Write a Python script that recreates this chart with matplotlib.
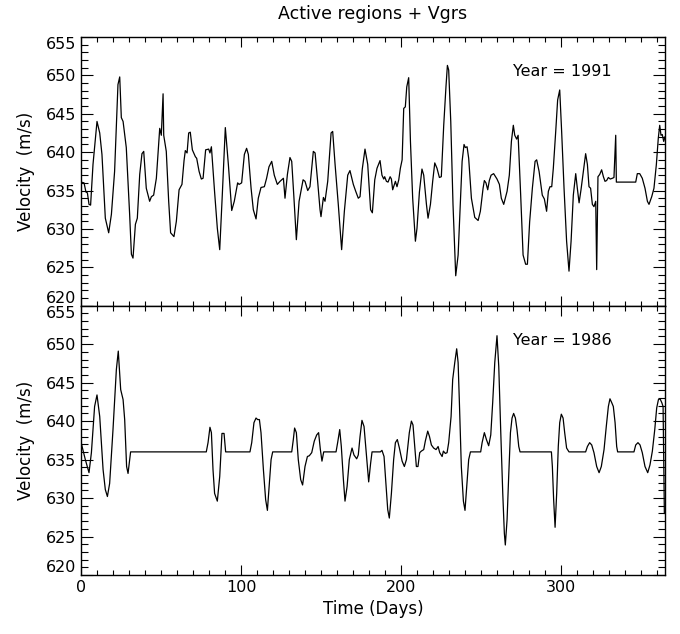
import matplotlib
matplotlib.use('Agg')
import matplotlib.pyplot as plt
from matplotlib.ticker import MultipleLocator

# 1991 series (day, velocity)
days1991 = [0, 1.9, 3.1, 4, 5, 6, 7.5, 10, 11.7, 13.1, 15.2, 17.3, 19, 21, 23.1, 24.2, 25.2, 26.3, 28.3,
            30.4, 31.5, 32.5, 34, 35.2, 36.7, 38.1, 39.2, 40.8, 42.9, 44, 45.4, 47.1, 49.2, 50.2, 51.3,
            51.7, 53.3, 54.8, 56, 58.1, 59.6, 61.3, 63.1, 64.4, 65.2, 66.3, 67.3, 68.3, 69.6, 71.5, 72.3,
            73.8, 75.2, 76.3, 77.9, 79.8, 80.6, 81.5, 83.5, 85.2, 86.7, 88.3, 90.2, 92.1, 94.2, 95.8,
            97.9, 98.8, 100.4, 102.1, 103.5, 104.6, 106.3, 107.7, 109.4, 110.8, 112.5, 114.6, 116,
            117.5, 119.2, 120.8, 122.7, 124.4, 126.5, 127.5, 129, 130.6, 131.7, 133.1, 134.6, 136.3,
            138.8, 140, 141.7, 143.1, 145.2, 146.3, 147.9, 149.4, 150, 151.5, 152.5, 154.2, 156.3,
            157.3, 158.8, 160.8, 162.9, 164.6, 166.7, 168.1, 170.2, 171.7, 173.3, 174.4, 175.8, 177.5,
            179.2, 181, 182.1, 183.6, 185, 186.9, 188.1, 189.2, 189.8, 190.9, 191.9, 193.2, 194, 194.8,
            196.5, 197.5, 198.6, 199.6, 200.7, 201.7, 202.7, 203.6, 204.8, 205.9, 207.3, 209, 210,
            211.5, 213.1, 214.2, 215.9, 216.9, 218.4, 219.8, 221.1, 222.5, 224, 225.2, 226.7, 228.1,
            229, 229.8, 231.1, 232.5, 234.2, 235.7, 237.3, 238.2, 239.4, 240.2, 241.3, 242.3, 244,
            246.1, 248.2, 249.6, 251.3, 252.1, 253.1, 254.2, 255.2, 256.3, 257.9, 260, 261.5, 262.7,
            264.2, 266.3, 267.7, 269, 270.2, 271.1, 272.3, 273.2, 274.8, 276.3, 277.9, 279, 280.4,
            282.1, 283.8, 284.8, 286.3, 288.3, 289.6, 291, 292.1, 293.1, 294.2, 295.2, 296.7, 297.9,
            299.2, 300.4, 301.9, 303.5, 305, 306.3, 307.7, 309.2, 310.2, 311.3, 312.5, 314, 315.4,
            316.5, 317.5, 318.5, 319.6, 320.6, 321.7, 322.3, 323.1, 324.2, 325.4, 326.5, 327.5, 328.5,
            329.6, 330.8, 332.1, 333.1, 334.2, 334.6, 346.7, 347.7, 349.2, 350.8, 352.5, 354, 355,
            356.7, 358.1, 359.6, 360.8, 361.7, 362.5, 363.3, 364.2, 365]
vel1991 = [636.1, 636.0, 634.8, 634.7, 633.2, 633.1, 638.4, 644.0, 642.5, 639.7, 631.4, 629.5, 631.9,
           637.5, 648.8, 649.8, 644.5, 644.0, 640.6, 631.9, 626.7, 626.2, 630.6, 631.4, 637.1, 639.8,
           640.1, 635.3, 633.6, 634.2, 634.4, 636.6, 643.1, 642.2, 647.6, 642.2, 640.1, 633.6, 629.5,
           629.0, 631.0, 635.1, 635.8, 638.9, 640.2, 639.9, 642.5, 642.6, 640.3, 639.4, 639.2, 637.5,
           636.5, 636.6, 640.3, 640.4, 639.9, 640.7, 634.8, 630.1, 627.3, 634.4, 643.2, 638.4, 632.4,
           633.6, 636.0, 635.8, 636.0, 639.7, 640.5, 639.7, 635.3, 632.5, 631.3, 634.0, 635.4, 635.5,
           636.6, 638.1, 638.8, 637.0, 635.8, 636.2, 636.6, 634.0, 637.1, 639.3, 638.8, 634.0, 628.6,
           633.6, 636.4, 636.2, 635.0, 635.5, 640.1, 639.9, 636.2, 632.5, 631.6, 634.1, 633.6, 636.2,
           642.5, 642.7, 638.4, 633.2, 627.3, 632.3, 637.0, 637.6, 635.8, 634.9, 634.0, 634.2, 637.8,
           640.4, 638.4, 632.5, 632.1, 636.4, 637.9, 638.9, 637.0, 636.5, 636.8, 636.2, 636.1, 636.8,
           636.5, 635.1, 636.2, 635.5, 636.4, 637.9, 639.0, 645.7, 645.9, 648.5, 649.7, 641.4, 634.0,
           628.4, 630.1, 634.8, 637.8, 637.0, 633.2, 631.4, 633.2, 636.2, 638.6, 637.9, 636.7, 636.8,
           643.5, 648.5, 651.3, 650.7, 644.0, 633.2, 623.9, 626.6, 634.4, 638.8, 641.0, 640.6, 640.7,
           639.2, 634.0, 631.5, 631.1, 632.3, 635.3, 636.3, 636.0, 635.1, 636.3, 637.0, 637.2, 636.5,
           635.8, 634.0, 633.2, 634.9, 637.0, 641.4, 643.5, 642.2, 641.7, 642.2, 634.4, 626.6, 625.4,
           625.4, 630.9, 635.3, 638.8, 639.0, 637.5, 634.4, 633.9, 632.3, 634.9, 635.5, 635.5, 637.9,
           642.7, 646.8, 648.1, 642.7, 635.3, 628.4, 624.5, 628.4, 634.4, 637.2, 635.3, 633.4, 635.1,
           637.5, 639.8, 638.4, 635.5, 635.3, 633.2, 632.9, 633.6, 624.7, 636.8, 637.1, 637.7, 636.8,
           636.2, 636.3, 636.7, 636.5, 636.6, 636.7, 642.2, 636.1, 636.1, 637.2, 637.2, 636.6, 635.3,
           633.6, 633.2, 634.2, 635.3, 638.4, 641.8, 643.5, 642.2, 642.3, 641.4, 642.0]

# 1986 series (day, velocity)
days1986 = [0.2, 2.7, 5, 6.5, 8.5, 10, 11.7, 13.8, 15.2, 16.5, 17.9, 20, 22.1, 23.3, 24.8, 26.3, 27.3,
            28.5, 29.4, 30.4, 31, 78.3, 79.4, 80.6, 81.5, 82.5, 83.5, 85.2, 86.7, 88.1, 89.4, 90.4,
            105.6, 106.7, 108.1, 109.4, 110.4, 111.5, 112.5, 114, 115.4, 116.5, 117.7, 118.8, 119.8,
            131.7, 132.7, 133.5, 134.6, 135.8, 137.3, 138.5, 140, 141.5, 142.7, 144.2, 145.8, 147.3,
            148.5, 149.6, 150.6, 151.7, 159.4, 160.4, 161.7, 162.7, 164, 165, 166.3, 167.7, 169.4,
            170.6, 172.3, 173.3, 174.4, 175.6, 176.9, 178.1, 179.8, 181, 181.9, 187.1, 188.1, 189.4,
            190.7, 191.7, 192.7, 194, 195.4, 196.5, 197.7, 199, 200.7, 202.1, 203.4, 205.2, 206.5,
            207.5, 208.6, 209.6, 210.6, 211.7, 212.7, 214.2, 215.2, 216.7, 217.8, 219, 220.4, 221.9,
            223.2, 224.2, 225.7, 226.5, 227.7, 228.8, 229.8, 231.3, 232.3, 233.6, 234.8, 235.7, 236.5,
            237.7, 239, 240, 241.1, 242.3, 243.4, 249.8, 250.7, 252.1, 253.4, 254.8, 256.1, 257.3,
            258.6, 260, 261.1, 262.3, 263.6, 264.6, 265.2, 266.3, 267.3, 268.4, 269.4, 270.4, 271.5,
            272.5, 273.6, 274.4, 294, 294.6, 295.4, 296.3, 297.3, 298.3, 299.2, 300.2, 301.3, 302.3,
            303.5, 305, 315.4, 316.5, 317.9, 319.2, 320.6, 322.3, 323.8, 325.2, 326.9, 328.3, 329.6,
            330.6, 331.7, 332.7, 333.8, 334.8, 335.4, 345.6, 346.7, 348.1, 349.4, 350.8, 352.5, 354.2,
            355.6, 357.1, 358.6, 359.8, 360.9, 361.9, 363, 363.8, 364.6]
vel1986 = [637.1, 635.0, 633.3, 635.9, 641.9, 643.4, 640.6, 633.7, 631.1, 630.2, 631.9, 638.9, 646.7,
           649.1, 644.1, 642.8, 640.2, 634.1, 633.2, 635.0, 636.0, 636.0, 637.2, 639.2, 638.5, 633.7,
           630.6, 629.6, 632.8, 638.4, 638.4, 636.0, 636.0, 637.2, 639.8, 640.4, 640.2, 640.2, 638.5,
           633.7, 629.8, 628.4, 631.9, 635.0, 636.0, 636.0, 637.6, 639.1, 638.5, 635.0, 632.4, 631.7,
           634.1, 635.4, 635.5, 635.9, 637.4, 638.2, 638.5, 636.3, 634.8, 636.0, 636.0, 637.2, 638.9,
           636.7, 632.4, 629.6, 631.5, 635.0, 636.5, 635.6, 635.1, 635.6, 638.0, 640.1, 639.3, 636.3,
           632.1, 634.5, 636.0, 636.0, 636.2, 635.4, 631.5, 628.5, 627.4, 630.6, 635.0, 637.2, 637.6,
           636.5, 634.8, 634.1, 635.0, 638.5, 640.0, 639.5, 636.7, 634.1, 634.1, 635.9, 636.1, 636.3,
           637.4, 638.7, 638.0, 636.9, 636.5, 636.3, 636.7, 635.9, 635.4, 636.1, 635.8, 635.9, 637.2,
           640.6, 645.4, 647.6, 649.4, 647.6, 642.4, 634.1, 629.6, 628.4, 631.5, 635.0, 636.0, 636.0,
           637.2, 638.5, 637.6, 636.8, 638.2, 642.4, 647.6, 651.1, 647.1, 638.9, 630.6, 625.4, 623.9,
           627.2, 632.8, 638.5, 640.4, 641.0, 640.4, 638.9, 636.7, 636.0, 636.0, 634.1, 629.8, 626.2,
           630.6, 636.7, 639.8, 640.9, 640.4, 638.5, 636.5, 636.0, 636.0, 636.7, 637.2, 636.9, 635.9,
           634.1, 633.3, 634.1, 636.3, 639.3, 641.9, 642.9, 642.4, 641.9, 639.8, 636.7, 636.0, 636.0,
           636.9, 637.2, 636.9, 635.9, 634.1, 633.3, 634.3, 636.1, 638.9, 641.7, 642.8, 642.9, 642.4,
           641.9, 628.0]

yticks = [620, 625, 630, 635, 640, 645, 650, 655]
panels = [(days1991, vel1991, 'Year = 1991'), (days1986, vel1986, 'Year = 1986')]

plt.rcParams['font.family'] = 'DejaVu Sans'
fig = plt.figure(figsize=(6.8, 6.34), dpi=100)

W, H = 680.0, 634.0
left, right = 81 / W, 665 / W
tops = [37, 305.7]
bottoms = [305.7, 575]

for i, (x, y, label) in enumerate(panels):
    ax = fig.add_axes([left, 1 - bottoms[i] / H, right - left, (bottoms[i] - tops[i]) / H])
    ax.plot(x, y, color='black', lw=0.9)
    ax.set_xlim(0, 365)
    ax.set_ylim(620, 655)
    ax.xaxis.set_major_locator(MultipleLocator(100))
    ax.xaxis.set_minor_locator(MultipleLocator(10))
    ax.set_yticks(yticks)
    ax.yaxis.set_minor_locator(MultipleLocator(1))
    ax.tick_params(which='both', direction='in', top=True, right=True, labelsize=11.5, width=0.8)
    ax.tick_params(axis='y', which='major', length=8.5)
    ax.tick_params(axis='y', which='minor', length=5)
    ax.tick_params(axis='x', which='major', length=7)
    ax.tick_params(axis='x', which='minor', length=3.5)
    ax.set_ylabel('Velocity  (m/s)', fontsize=12, labelpad=8)
    for s in ax.spines.values():
        s.set_linewidth(1.0)
    # IDL keeps the end labels inside the axis range
    yt = ax.yaxis.get_major_ticks()
    yt[0].label1.set_va('bottom')
    yt[-1].label1.set_va('top')
    ax.text(270, 650.5, label, fontsize=11.5, va='center', ha='left')
    if i == 0:
        ax.tick_params(labelbottom=False)
    else:
        ax.set_xlabel('Time (Days)', fontsize=12, labelpad=4)

fig.text((81 + 665) / 2 / W, 1 - 14 / H, 'Active regions + Vgrs', ha='center', va='center', fontsize=12.5)

fig.savefig('out.png', dpi=100)
